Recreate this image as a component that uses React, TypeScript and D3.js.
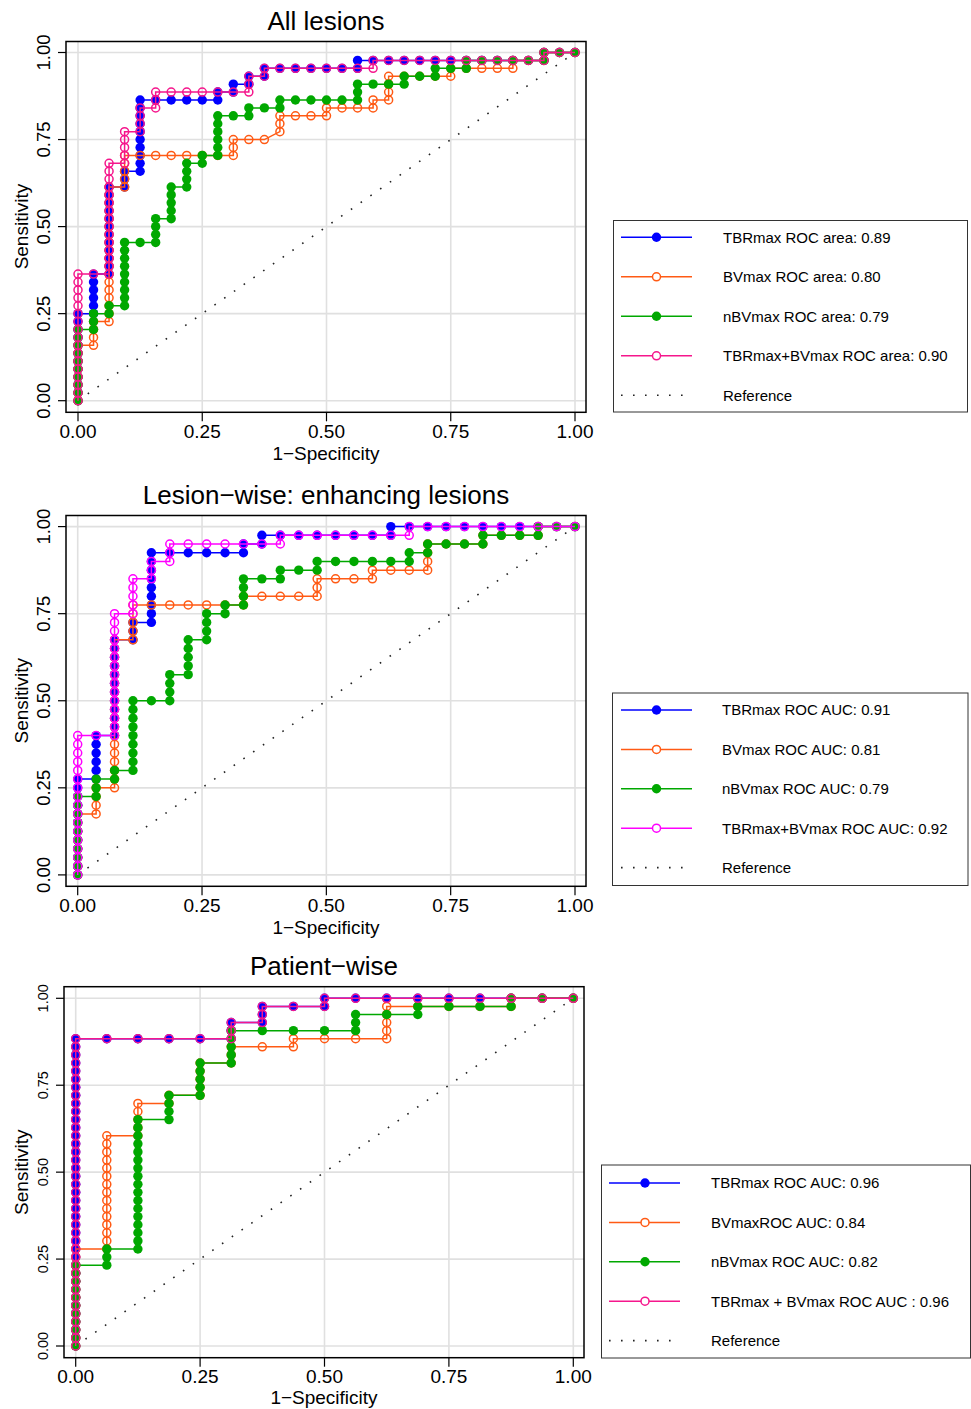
import React from 'react';
import * as d3 from 'd3';

const FONT = '"Liberation Sans", Arial, Helvetica, sans-serif';

// ---------- text ----------
const panelTitles = ['All lesions', 'Lesion−wise: enhancing lesions', 'Patient−wise'];
const axisTicks = [0, 0.25, 0.5, 0.75, 1];
const axisTickLabels = ['0.00', '0.25', '0.50', '0.75', '1.00'];
const xAxisTitle = '1−Specificity';
const yAxisTitle = 'Sensitivity';

const legendAll = ['TBRmax ROC area: 0.89', 'BVmax ROC area: 0.80', 'nBVmax ROC area: 0.79', 'TBRmax+BVmax ROC area: 0.90', 'Reference'];
const legendLesion = ['TBRmax ROC AUC: 0.91', 'BVmax ROC AUC: 0.81', 'nBVmax ROC AUC: 0.79', 'TBRmax+BVmax ROC AUC: 0.92', 'Reference'];
const legendPatient = ['TBRmax ROC AUC: 0.96', 'BVmaxROC AUC: 0.84', 'nBVmax ROC AUC: 0.82', 'TBRmax + BVmax ROC AUC : 0.96', 'Reference'];

// ---------- data: number of negatives / positives per panel ----------
const negatives = [32, 27, 16];
const positives = [44, 40, 43];

// ROC curve vertices as [false positives, true positives]
const allTBR = [[0,0],[0,11],[1,11],[1,16],[2,16],[2,27],[3,27],[3,29],[4,29],[4,38],[9,38],[9,39],[10,39],[10,40],[11,40],[11,41],[12,41],[12,42],[18,42],[18,43],[30,43],[30,44],[32,44]];
const allBV = [[0,0],[0,7],[1,7],[1,10],[2,10],[2,27],[3,27],[3,31],[10,31],[10,33],[12,33],[13,34],[13,36],[16,36],[16,37],[19,37],[19,38],[20,38],[20,41],[24,41],[24,42],[28,42],[28,43],[30,43],[30,44],[32,44]];
const allNBV = [[0,0],[0,9],[1,9],[1,11],[2,11],[2,12],[3,12],[3,20],[5,20],[5,23],[6,23],[6,27],[7,27],[7,30],[8,30],[8,31],[9,31],[9,36],[11,36],[11,37],[13,37],[13,38],[18,38],[18,40],[21,40],[21,41],[23,41],[23,42],[25,42],[25,43],[30,43],[30,44],[32,44]];
const allCombo = [[0,0],[0,16],[2,16],[2,30],[3,30],[3,34],[4,34],[4,37],[5,37],[5,39],[11,39],[11,41],[12,41],[12,42],[19,42],[19,43],[30,43],[30,44],[32,44]];

const lesTBR = [[0,0],[0,11],[1,11],[1,16],[2,16],[2,27],[3,27],[3,29],[4,29],[4,37],[9,37],[9,38],[10,38],[10,39],[17,39],[17,40],[27,40]];
const lesBV = [[0,0],[0,7],[1,7],[1,10],[2,10],[2,27],[3,27],[3,31],[9,31],[9,32],[13,32],[13,34],[16,34],[16,35],[19,35],[19,38],[22,38],[22,39],[25,39],[25,40],[27,40]];
const lesNBV = [[0,0],[0,9],[1,9],[1,11],[2,11],[2,12],[3,12],[3,20],[5,20],[5,23],[6,23],[6,27],[7,27],[7,30],[8,30],[8,31],[9,31],[9,34],[11,34],[11,35],[13,35],[13,36],[18,36],[18,37],[19,37],[19,38],[22,38],[22,39],[25,39],[25,40],[27,40]];
const lesCombo = [[0,0],[0,16],[2,16],[2,30],[3,30],[3,34],[4,34],[4,36],[5,36],[5,38],[11,38],[11,39],[18,39],[18,40],[27,40]];

const patTBR = [[0,0],[0,38],[5,38],[5,40],[6,40],[6,42],[8,42],[8,43],[16,43]];
const patBV = [[0,0],[0,12],[1,12],[1,26],[2,26],[2,30],[3,30],[3,31],[4,31],[4,35],[5,35],[5,37],[7,37],[7,38],[10,38],[10,42],[14,42],[14,43],[16,43]];
const patNBV = [[0,0],[0,10],[1,10],[1,12],[2,12],[2,28],[3,28],[3,31],[4,31],[4,35],[5,35],[5,39],[9,39],[9,41],[11,41],[11,42],[14,42],[14,43],[16,43]];
const patCombo = [[0,0],[0,38],[5,38],[5,40],[6,40],[6,42],[8,42],[8,43],[16,43]];

const panelCurves = [
  [allTBR, allBV, allNBV, allCombo],
  [lesTBR, lesBV, lesNBV, lesCombo],
  [patTBR, patBV, patNBV, patCombo],
];
const panelLegends = [legendAll, legendLesion, legendPatient];

// ---------- styles ----------
const BLUE = '#0000ff';
const ORANGE = '#ff5a14';
const GREEN = '#00a800';
const PINK = '#f5168c';
const MAGENTA = '#ff00ff';
const seriesFilled = [true, false, true, false];
const R_FILLED = 4.7;
const R_HOLLOW = 4.0;
const HOLLOW_W = 1.5;

const layouts = [
  {
    box: [66, 41.5, 586, 412.3], xr: [78, 575], yr: [400.7, 52.5],
    titleY: 30, xLabY: 437.5, xTitleY: 459.5, yLabX: 50, yLabSize: 18.5,
    colors: [BLUE, ORANGE, GREEN, PINK],
    legend: { box: [613.5, 220.5, 967.5, 412], rows: [237.3, 276.8, 316.3, 355.8, 395.3], lx: [621, 692], mx: 656.5, tx: 723 },
  },
  {
    box: [66, 515.5, 586, 886.3], xr: [77.7, 575], yr: [874.9, 526.6],
    titleY: 504, xLabY: 911.5, xTitleY: 933.5, yLabX: 50, yLabSize: 18.5,
    colors: [BLUE, ORANGE, GREEN, MAGENTA],
    legend: { box: [612.5, 693, 968, 885.5], rows: [710, 749.4, 788.8, 828.2, 867.6], lx: [621, 692], mx: 656.5, tx: 722 },
  },
  {
    box: [64, 986.7, 584, 1357.7], xr: [75.7, 573.3], yr: [1346, 998.3],
    titleY: 975, xLabY: 1382.5, xTitleY: 1404, yLabX: 48, yLabSize: 14.5,
    colors: [BLUE, ORANGE, GREEN, PINK],
    legend: { box: [601.5, 1165, 970.5, 1358], rows: [1183, 1222.4, 1261.8, 1301.2, 1340.6], lx: [609, 680], mx: 645, tx: 711 },
  },
];

// all operating points along the vertex path (one per case step)
function operatingPoints(corners: number[][]) {
  const pts: number[][] = [];
  const seen = new Set<string>();
  const add = (p: number[]) => {
    const k = p[0] + ',' + p[1];
    if (!seen.has(k)) { seen.add(k); pts.push(p); }
  };
  add(corners[0]);
  for (let i = 1; i < corners.length; i++) {
    const [x0, y0] = corners[i - 1];
    const [x1, y1] = corners[i];
    if (x0 === x1) for (let y = y0 + 1; y <= y1; y++) add([x0, y]);
    else if (y0 === y1) for (let x = x0 + 1; x <= x1; x++) add([x, y0]);
    else add([x1, y1]);
  }
  return pts;
}

function Panel({ idx }: { idx: number }) {
  const L = layouts[idx];
  const nNeg = negatives[idx];
  const nPos = positives[idx];
  const x = d3.scaleLinear().domain([0, 1]).range(L.xr);
  const y = d3.scaleLinear().domain([0, 1]).range(L.yr);
  const [bx0, by0, bx1, by1] = L.box;
  const line = d3.line<number[]>().x(d => x(d[0] / nNeg)).y(d => y(d[1] / nPos));
  const cx = (bx0 + bx1) / 2;
  const cy = (L.yr[0] + L.yr[1]) / 2;
  const lg = L.legend;
  return (
    <g>
      <text x={cx} y={L.titleY} textAnchor="middle" fontSize={26} fontFamily={FONT} fill="#000">{panelTitles[idx]}</text>
      {/* grid */}
      {axisTicks.map(t => (
        <line key={'gx' + t} x1={x(t)} x2={x(t)} y1={by0} y2={by1} stroke="#e0e0e0" strokeWidth={1.6} />
      ))}
      {axisTicks.map(t => (
        <line key={'gy' + t} x1={bx0} x2={bx1} y1={y(t)} y2={y(t)} stroke="#e0e0e0" strokeWidth={1.6} />
      ))}
      {/* reference */}
      <line x1={x(0)} y1={y(0)} x2={x(1)} y2={y(1)} stroke="#222" strokeWidth={1.6} strokeDasharray="1.6 10.3" />
      {/* curves */}
      {panelCurves[idx].map((corners, s) => {
        const col = L.colors[s];
        const pts = operatingPoints(corners);
        return (
          <g key={'s' + s}>
            <path d={line(corners) || ''} fill="none" stroke={col} strokeWidth={1.5} />
            {pts.map((p, j) => seriesFilled[s] ? (
              <circle key={j} cx={x(p[0] / nNeg)} cy={y(p[1] / nPos)} r={R_FILLED} fill={col} />
            ) : (
              <circle key={j} cx={x(p[0] / nNeg)} cy={y(p[1] / nPos)} r={R_HOLLOW} fill="none" stroke={col} strokeWidth={HOLLOW_W} />
            ))}
          </g>
        );
      })}
      {/* frame */}
      <rect x={bx0} y={by0} width={bx1 - bx0} height={by1 - by0} fill="none" stroke="#000" strokeWidth={1.5} />
      {/* ticks */}
      {axisTicks.map((t, i) => (
        <g key={'tx' + t}>
          <line x1={x(t)} x2={x(t)} y1={by1} y2={by1 + 9} stroke="#000" strokeWidth={1.2} />
          <text x={x(t)} y={L.xLabY} textAnchor="middle" fontSize={19} fontFamily={FONT}>{axisTickLabels[i]}</text>
        </g>
      ))}
      {axisTicks.map((t, i) => (
        <g key={'ty' + t}>
          <line x1={bx0 - 8} x2={bx0} y1={y(t)} y2={y(t)} stroke="#000" strokeWidth={1.2} />
          <text transform={`translate(${L.yLabX},${y(t)}) rotate(-90)`} textAnchor="middle" fontSize={L.yLabSize} fontFamily={FONT}>{axisTickLabels[i]}</text>
        </g>
      ))}
      <text x={cx} y={L.xTitleY} textAnchor="middle" fontSize={19} fontFamily={FONT}>{xAxisTitle}</text>
      <text transform={`translate(28,${cy}) rotate(-90)`} textAnchor="middle" fontSize={19} fontFamily={FONT}>{yAxisTitle}</text>
      {/* legend */}
      <rect x={lg.box[0]} y={lg.box[1]} width={lg.box[2] - lg.box[0]} height={lg.box[3] - lg.box[1]} fill="#fff" stroke="#333" strokeWidth={1} />
      {panelLegends[idx].map((label, r) => {
        const ry = lg.rows[r];
        if (r < 4) {
          const col = L.colors[r];
          return (
            <g key={'l' + r}>
              <line x1={lg.lx[0]} x2={lg.lx[1]} y1={ry} y2={ry} stroke={col} strokeWidth={1.5} />
              {seriesFilled[r]
                ? <circle cx={lg.mx} cy={ry} r={R_FILLED} fill={col} />
                : <circle cx={lg.mx} cy={ry} r={R_HOLLOW} fill="#fff" stroke={col} strokeWidth={HOLLOW_W} />}
              <text x={lg.tx} y={ry + 5.3} fontSize={15} fontFamily={FONT}>{label}</text>
            </g>
          );
        }
        return (
          <g key={'l' + r}>
            <line x1={lg.lx[0]} x2={lg.lx[1]} y1={ry} y2={ry} stroke="#222" strokeWidth={1.6} strokeDasharray="1.6 10.4" />
            <text x={lg.tx} y={ry + 5.3} fontSize={15} fontFamily={FONT}>{label}</text>
          </g>
        );
      })}
    </g>
  );
}

export default function App() {
  return (
    <svg width={971} height={1409} style={{ position: 'absolute', left: 0, top: 0, background: '#fff' }}>
      <rect x={0} y={0} width={971} height={1409} fill="#fff" />
      {[0, 1, 2].map(i => <Panel key={i} idx={i} />)}
    </svg>
  );
}
